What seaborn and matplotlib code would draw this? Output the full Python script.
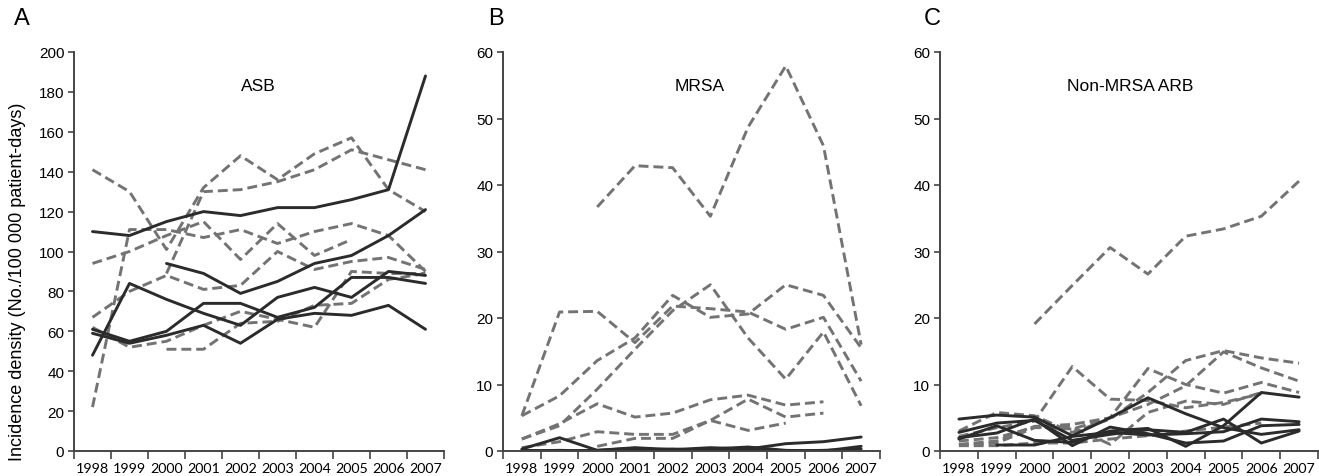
import numpy as np
import pandas as pd
import matplotlib
matplotlib.use("Agg")
import matplotlib.pyplot as plt
from matplotlib.ticker import FixedLocator
import seaborn as sns

nan = np.nan
years = ["1998", "1999", "2000", "2001", "2002", "2003", "2004", "2005", "2006", "2007"]

# ASB (panel A)
asb_solid = [
    [110, 108, 115, 120, 118, 122, 122, 126, 131, 188],
    [nan, nan, 94, 89, 79, 85, 94, 98, 108, 121],
    [48, 84, 76, 69, 63, 77, 82, 77, 90, 88],
    [61, 55, 60, 74, 74, 67, 72, 87, 87, 84],
    [59, 54, 58, 63, 54, 66, 69, 68, 73, 61],
]
asb_dashed = [
    [141, 130, 101, 132, 148, 136, 149, 157, 131, 120],
    [nan, nan, 89, 130, 131, 135, 141, 151, 146, 141],
    [94, 100, 108, 115, 96, 114, 98, 106, nan, nan],
    [67, 80, 88, 81, 83, 100, 91, 95, 97, 91],
    [22, 111, 111, 107, 111, 104, 110, 114, 108, 90],
    [62, 52, 55, 63, 70, 66, 62, 90, 89, 89],
    [nan, nan, 51, 51, 64, 65, 73, 74, 86, 89],
]

# MRSA (panel B)
mrsa_solid = [
    [0.3, 2.0, 0.1, 0.5, 0.2, 0.5, 0.3, 1.1, 1.4, 2.1],
    [0.1, 0.0, 0.1, 0.4, 0.1, 0.3, 0.6, 0.1, 0.0, 0.7],
    [0.0, 0.1, 0.0, 0.2, 0.3, 0.1, 0.2, 0.0, 0.1, 0.3],
]
mrsa_dashed = [
    [nan, nan, 36.7, 42.9, 42.6, 35.3, 48.7, 57.9, 45.9, 16.0],
    [5.3, 20.9, 21.0, 16.3, 21.8, 21.4, 20.9, 18.3, 20.1, 10.5],
    [5.3, 8.3, 13.6, 17.0, 23.4, 20.1, 20.6, 25.0, 23.4, 15.5],
    [1.8, 3.8, 9.3, 15.3, 21.1, 25.0, 17.0, 10.8, 17.9, 6.8],
    [1.8, 4.1, 7.1, 5.1, 5.7, 7.7, 8.4, 6.9, 7.4, nan],
    [0.5, 1.4, 2.9, 2.5, 2.5, 4.6, 7.8, 5.1, 5.7, nan],
    [nan, nan, 0.7, 1.9, 1.9, 4.6, 3.1, 4.2, nan, nan],
]

# Non-MRSA ARB (panel C)
arb_solid = [
    [4.8, 5.4, 5.1, 2.3, 5.0, 8.0, 5.6, 3.5, 2.5, 3.2],
    [1.8, 3.8, 1.6, 1.3, 3.0, 3.4, 0.7, 3.8, 8.8, 8.1],
    [2.8, 4.2, 4.6, 1.6, 2.5, 3.2, 2.8, 4.8, 1.2, 3.0],
    [nan, 0.9, 0.9, 2.2, 2.8, 2.4, 2.6, 2.9, 4.8, 4.4],
    [2.0, 2.7, 4.8, 0.8, 3.6, 2.6, 1.2, 1.5, 3.8, 4.0],
]
arb_dashed = [
    [nan, nan, 19.1, 24.9, 30.6, 26.6, 32.3, 33.4, 35.3, 40.6],
    [2.2, 3.5, 4.5, 12.7, 7.8, 7.6, 6.5, 7.3, 8.6, nan],
    [1.0, 1.5, 3.7, 4.0, 5.0, 12.4, 10.0, 8.7, 10.3, 8.8],
    [3.0, 5.8, 5.3, 2.8, 4.8, 8.8, 13.6, 15.1, 14.0, 13.2],
    [1.5, 2.0, 3.6, 3.3, 5.0, 7.0, 9.8, 14.9, 12.5, 10.5],
    [0.9, 1.2, 3.5, 3.6, 1.0, 5.8, 7.5, 7.0, 8.8, nan],
    [0.8, 0.8, 1.2, 1.2, 1.8, 2.3, 3.0, 3.6, 4.2, nan],
]

panels = [
    ("A", "ASB", asb_solid, asb_dashed, 200, 20),
    ("B", "MRSA", mrsa_solid, mrsa_dashed, 60, 10),
    ("C", "Non-MRSA ARB", arb_solid, arb_dashed, 60, 10),
]


def to_long(solid, dashed):
    rows = []
    for kind, group in (("dashed", dashed), ("solid", solid)):
        for k, vals in enumerate(group):
            for i, v in enumerate(vals):
                if not np.isnan(v):
                    rows.append({"x": i, "value": v, "series": f"{kind}{k}", "kind": kind})
    return pd.DataFrame(rows)


sns.set_theme(style="ticks")
plt.rcParams["font.family"] = ["Liberation Sans", "DejaVu Sans"]
plt.rcParams["text.color"] = "black"
plt.rcParams["xtick.labelcolor"] = "black"
plt.rcParams["ytick.labelcolor"] = "black"

fig = plt.figure(figsize=(13.19, 4.77), dpi=100)
W, H = 1319, 477
boxes = [(74, 444), (503, 880), (940, 1318)]
top, bottom = 53, 452
letter_x = [22, 496, 932]
title_x = [258, 700, 1130]

for (letter, title, solid, dashed, ymax, ystep), (x0, x1), lx, tx in zip(panels, boxes, letter_x, title_x):
    ax = fig.add_axes([x0 / W, 1 - bottom / H, (x1 - x0) / W, (bottom - top) / H])
    df = to_long(solid, dashed)
    sns.lineplot(
        data=df, x="x", y="value", units="series", estimator=None,
        hue="kind", style="kind",
        palette={"solid": "#2b2b2b", "dashed": "#737373"},
        dashes={"solid": "", "dashed": (3.4, 1.7)},
        linewidth=2.1, legend=False, ax=ax,
    )
    ax.set_xlim(-0.5, 9.5)
    ax.set_ylim(0, ymax)
    ax.set_yticks(np.arange(0, ymax + 1, ystep))
    ax.set_xticks(range(10))
    ax.set_xticklabels(years, fontsize=10.3, family=["Lato", "DejaVu Sans"])
    ax.xaxis.set_minor_locator(FixedLocator(np.arange(-0.5, 10, 1.0)))
    ax.tick_params(axis="x", which="major", length=0, pad=8)
    ax.tick_params(axis="x", which="minor", length=6, width=1.2, color="#444444")
    ax.tick_params(axis="y", length=4, width=1.2, color="#444444", labelsize=11, pad=3)
    ax.set_xlabel("")
    ax.set_ylabel("")
    for side in ("top", "right"):
        ax.spines[side].set_visible(False)
    for side in ("left", "bottom"):
        ax.spines[side].set_color("#444444")
        ax.spines[side].set_linewidth(1.4)
    ax.patch.set_alpha(0)
    fig.text(tx / W, 1 - 87 / H, title, ha="center", va="center", fontsize=12.5)
    fig.text(lx / W, 1 - 19 / H, letter, ha="center", va="center", fontsize=17)

fig.text(18 / W, 1 - 282 / H, "Incidence density (No./100 000 patient-days)",
         rotation=90, ha="center", va="center", fontsize=13)

fig.savefig("out.png", dpi=100, facecolor="white")
